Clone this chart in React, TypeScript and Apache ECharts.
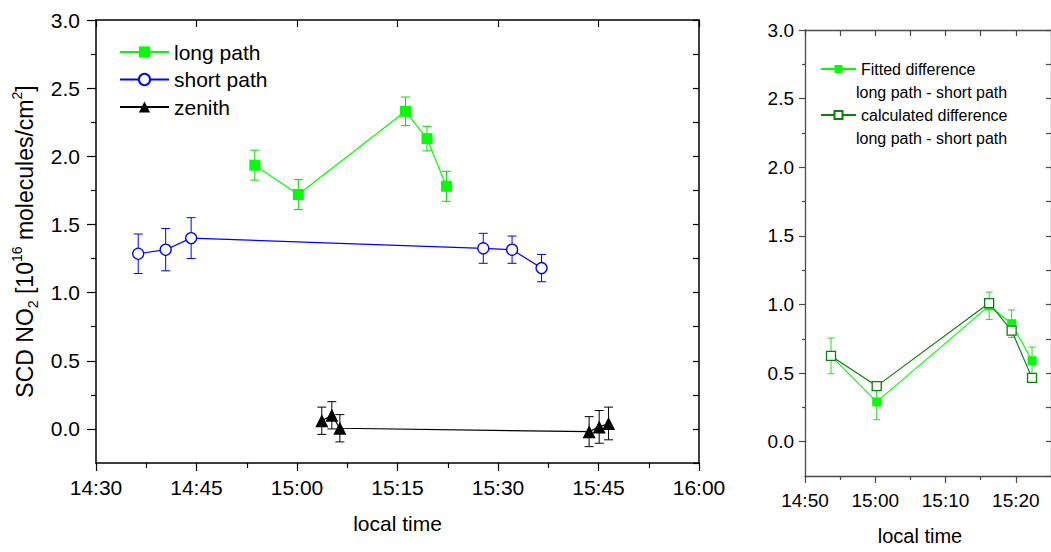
import React, { useEffect, useRef } from 'react';
import * as echarts from 'echarts';

// ---- data (time in minutes since midnight) ----
const longTimes = [893.7, 900.2, 916.2, 919.4, 922.3];
const longValues = [1.935, 1.72, 2.33, 2.13, 1.78];
const longErrors = [0.11, 0.11, 0.105, 0.09, 0.11];

const shortTimes = [876.3, 880.4, 884.2, 927.8, 932.1, 936.5];
const shortValues = [1.285, 1.315, 1.4, 1.325, 1.315, 1.18];
const shortErrors = [0.145, 0.155, 0.15, 0.11, 0.1, 0.1];

const zenithTimes = [903.7, 905.2, 906.4, 943.6, 945.1, 946.5];
const zenithValues = [0.06, 0.1, 0.005, -0.02, 0.015, 0.04];
const zenithErrors = [0.1, 0.1, 0.1, 0.11, 0.12, 0.12];

const diffTimes = [893.7, 900.2, 916.2, 919.4, 922.3];
const fittedValues = [0.625, 0.29, 0.99, 0.86, 0.59];
const fittedErrors = [0.13, 0.13, 0.1, 0.1, 0.1];
const calcValues = [0.625, 0.405, 1.01, 0.81, 0.465];

const leftXTicks = [870, 885, 900, 915, 930, 945, 960];
const rightXTicks = [890, 900, 910, 920];
const rightXMinor = [895, 905, 915];
const rightXAll = [890, 895, 900, 905, 910, 915, 920, 925];
const yMajor = [0, 0.5, 1, 1.5, 2, 2.5, 3];
const yMinor = [0.25, 0.75, 1.25, 1.75, 2.25, 2.75];
const yAll = [-0.25, 0, 0.25, 0.5, 0.75, 1, 1.25, 1.5, 1.75, 2, 2.25, 2.5, 2.75, 3];

const FONT = "'Liberation Sans', Arial, sans-serif";

const pairs = (t: number[], v: number[]) => t.map((x, i) => [x, v[i]]);
const errs = (t: number[], v: number[], e: number[]) => t.map((x, i) => [x, v[i] - e[i], v[i] + e[i]]);
const fmtTime = (v: number) => {
  const h = Math.floor(v / 60);
  const m = Math.round(v - h * 60);
  return `${h}:${String(m).padStart(2, '0')}`;
};

function errorSeries(name: string, data: number[][], color: string, xi: number, yi: number, cap: number) {
  return {
    type: 'custom',
    name,
    xAxisIndex: xi,
    yAxisIndex: yi,
    data,
    silent: true,
    z: 1,
    encode: { x: 0, y: [1, 2] },
    renderItem: (_p: any, api: any) => {
      const x = api.value(0);
      const a = api.coord([x, api.value(1)]);
      const b = api.coord([x, api.value(2)]);
      const h = cap / 2;
      const style = { stroke: color, lineWidth: 1, fill: null };
      return {
        type: 'group',
        children: [
          { type: 'line', shape: { x1: a[0], y1: a[1], x2: b[0], y2: b[1] }, style },
          { type: 'line', shape: { x1: a[0] - h, y1: a[1], x2: a[0] + h, y2: a[1] }, style },
          { type: 'line', shape: { x1: b[0] - h, y1: b[1], x2: b[0] + h, y2: b[1] }, style },
        ],
      };
    },
  };
}

export default function App() {
  const ref = useRef<HTMLDivElement>(null);
  useEffect(() => {
    if (!ref.current) return;
    const chart = echarts.init(ref.current, undefined, { renderer: 'svg' });
    const black = '#000';
    const gray = '#4a4a4a';
    const bareAxis = {
      axisLine: { show: false, onZero: false },
      axisLabel: { show: false },
      splitLine: { show: false },
    };
    const option: any = {
      animation: false,
      backgroundColor: '#fff',
      grid: [
        { left: 96, top: 20, width: 603, height: 443 },
        { left: 805, top: 30, width: 247.5, height: 446 },
      ],
      legend: [
        {
          data: ['long path', 'short path', 'zenith'],
          orient: 'vertical',
          left: 114,
          top: 36.5,
          itemWidth: 49,
          itemHeight: 14,
          itemGap: 6.5,
          textStyle: { fontSize: 21, fontFamily: FONT, color: black },
        },
        {
          data: ['Fitted difference', 'calculated difference'],
          orient: 'vertical',
          left: 815,
          top: 56,
          itemWidth: 35,
          itemHeight: 10,
          itemGap: 30,
          textStyle: { fontSize: 16, fontFamily: FONT, color: black },
        },
      ],
      graphic: [
        { type: 'text', left: 856, top: 84, style: { text: 'long path - short path', fontSize: 16, fontFamily: FONT, fill: black } },
        { type: 'text', left: 856, top: 130, style: { text: 'long path - short path', fontSize: 16, fontFamily: FONT, fill: black } },
      ],
      xAxis: [
        {
          gridIndex: 0, type: 'value', position: 'bottom', min: 870, max: 960, interval: 15,
          name: 'local time', nameLocation: 'middle', nameGap: 50,
          nameTextStyle: { fontSize: 21, fontFamily: FONT, color: black },
          axisLine: { onZero: false, lineStyle: { color: black, width: 1.5 } },
          axisTick: { inside: false, length: 8, lineStyle: { color: black, width: 1.2 } },
          minorTick: { show: true, splitNumber: 2, length: 5, lineStyle: { color: black, width: 1.2 } },
          axisLabel: { margin: 14, fontSize: 21, fontFamily: FONT, color: black, formatter: fmtTime, customValues: leftXTicks },
          splitLine: { show: false },
        },
        {
          gridIndex: 0, type: 'value', position: 'top', min: 870, max: 960, interval: 15,
          axisLine: { onZero: false, lineStyle: { color: black, width: 1.5 } },
          axisTick: { inside: true, length: 7, lineStyle: { color: black, width: 1.2 } },
          axisLabel: { show: false },
          splitLine: { show: false },
        },
        {
          gridIndex: 1, type: 'value', position: 'bottom', min: 890, max: 925,
          name: 'local time', nameLocation: 'middle', nameGap: 50,
          nameTextStyle: { fontSize: 20, fontFamily: FONT, color: black, padding: [0, 16, 0, 0] },
          axisLine: { onZero: false, lineStyle: { color: gray, width: 1.3 } },
          axisTick: { inside: false, length: 7, customValues: rightXTicks, lineStyle: { color: gray, width: 1.2 } },
          axisLabel: { margin: 15, fontSize: 19, fontFamily: FONT, color: black, formatter: fmtTime, customValues: rightXTicks },
          splitLine: { show: false },
        },
        {
          gridIndex: 1, type: 'value', position: 'bottom', min: 890, max: 925,
          ...bareAxis,
          axisTick: { inside: false, length: 4, customValues: rightXMinor, lineStyle: { color: gray, width: 1.2 } },
        },
        {
          gridIndex: 1, type: 'value', position: 'top', min: 890, max: 925,
          axisLine: { onZero: false, lineStyle: { color: gray, width: 1.3 } },
          axisTick: { inside: true, length: 6, customValues: rightXAll, lineStyle: { color: gray, width: 1.2 } },
          axisLabel: { show: false },
          splitLine: { show: false },
        },
      ],
      yAxis: [
        {
          gridIndex: 0, type: 'value', position: 'left', min: -0.25, max: 3,
          name: '{a|SCD NO}{s|2}{a| [10}{p|16}{a| molecules/cm}{p|2}{a|]}',
          nameLocation: 'middle', nameGap: 56,
          nameTextStyle: {
            fontSize: 23, fontFamily: FONT, color: black,
            rich: {
              a: { fontSize: 23, fontFamily: FONT, color: black, lineHeight: 30, verticalAlign: 'middle' },
              s: { fontSize: 14, fontFamily: FONT, color: black, lineHeight: 14, verticalAlign: 'bottom' },
              p: { fontSize: 14, fontFamily: FONT, color: black, lineHeight: 14, verticalAlign: 'top' },
            },
          },
          axisLine: { show: true, onZero: false, lineStyle: { color: black, width: 1.5 } },
          axisTick: { show: true, inside: false, length: 9, customValues: yMajor, lineStyle: { color: black, width: 1.2 } },
          axisLabel: { margin: 16, fontSize: 21, fontFamily: FONT, color: black, customValues: yMajor, formatter: (v: number) => v.toFixed(1) },
          splitLine: { show: false },
        },
        {
          gridIndex: 0, type: 'value', position: 'left', min: -0.25, max: 3,
          ...bareAxis,
          axisTick: { show: true, inside: false, length: 5, customValues: yMinor, lineStyle: { color: black, width: 1.2 } },
        },
        {
          gridIndex: 0, type: 'value', position: 'right', min: -0.25, max: 3,
          axisLine: { show: true, onZero: false, lineStyle: { color: black, width: 1.5 } },
          axisTick: { show: true, inside: true, length: 6, customValues: yAll, lineStyle: { color: black, width: 1.2 } },
          axisLabel: { show: false },
          splitLine: { show: false },
        },
        {
          gridIndex: 1, type: 'value', position: 'left', min: -0.25, max: 3,
          axisLine: { show: true, onZero: false, lineStyle: { color: gray, width: 1.3 } },
          axisTick: { show: true, inside: false, length: 6, customValues: yMajor, lineStyle: { color: gray, width: 1.2 } },
          axisLabel: { margin: 11, fontSize: 19, fontFamily: FONT, color: black, customValues: yMajor, formatter: (v: number) => v.toFixed(1) },
          splitLine: { show: false },
        },
        {
          gridIndex: 1, type: 'value', position: 'left', min: -0.25, max: 3,
          ...bareAxis,
          axisTick: { show: true, inside: false, length: 3, customValues: yMinor, lineStyle: { color: gray, width: 1.2 } },
        },
        {
          gridIndex: 1, type: 'value', position: 'right', min: -0.25, max: 3,
          axisLine: { show: true, onZero: false, lineStyle: { color: gray, width: 1.3 } },
          axisTick: { show: true, inside: true, length: 5, customValues: yAll, lineStyle: { color: gray, width: 1.2 } },
          axisLabel: { show: false },
          splitLine: { show: false },
        },
      ],
      series: [
        errorSeries('long path err', errs(longTimes, longValues, longErrors), '#00e000', 0, 0, 9),
        {
          type: 'line', name: 'long path', xAxisIndex: 0, yAxisIndex: 0,
          data: pairs(longTimes, longValues),
          symbol: 'rect', symbolSize: 11,
          lineStyle: { color: '#00ff00', width: 1.2 },
          itemStyle: { color: '#00ff00' },
        },
        errorSeries('short path err', errs(shortTimes, shortValues, shortErrors), '#0000ff', 0, 0, 9),
        {
          type: 'line', name: 'short path', xAxisIndex: 0, yAxisIndex: 0,
          data: pairs(shortTimes, shortValues),
          symbol: 'circle', symbolSize: 11,
          lineStyle: { color: '#0000ff', width: 1.2 },
          itemStyle: { color: '#ffffff', borderColor: '#0000ff', borderWidth: 1.3 },
        },
        errorSeries('zenith err', errs(zenithTimes, zenithValues, zenithErrors), '#000000', 0, 0, 9),
        {
          type: 'line', name: 'zenith', xAxisIndex: 0, yAxisIndex: 0,
          data: pairs(zenithTimes, zenithValues),
          symbol: 'triangle', symbolSize: 13,
          lineStyle: { color: '#000000', width: 1.2 },
          itemStyle: { color: '#000000' },
        },
        errorSeries('fitted err', errs(diffTimes, fittedValues, fittedErrors), '#22dd22', 2, 3, 7),
        {
          type: 'line', name: 'Fitted difference', xAxisIndex: 2, yAxisIndex: 3,
          data: pairs(diffTimes, fittedValues),
          symbol: 'rect', symbolSize: 9,
          lineStyle: { color: '#00ff00', width: 1.2 },
          itemStyle: { color: '#00ff00' },
        },
        {
          type: 'line', name: 'calculated difference', xAxisIndex: 2, yAxisIndex: 3,
          data: pairs(diffTimes, calcValues),
          symbol: 'rect', symbolSize: 9,
          lineStyle: { color: '#0a7f0a', width: 1.2 },
          itemStyle: { color: '#ffffff', borderColor: '#0a7f0a', borderWidth: 1.3 },
        },
      ],
    };
    chart.setOption(option);
    return () => chart.dispose();
  }, []);
  return <div ref={ref} style={{ position: 'absolute', left: 0, top: 0, width: 1051, height: 552 }} />;
}
